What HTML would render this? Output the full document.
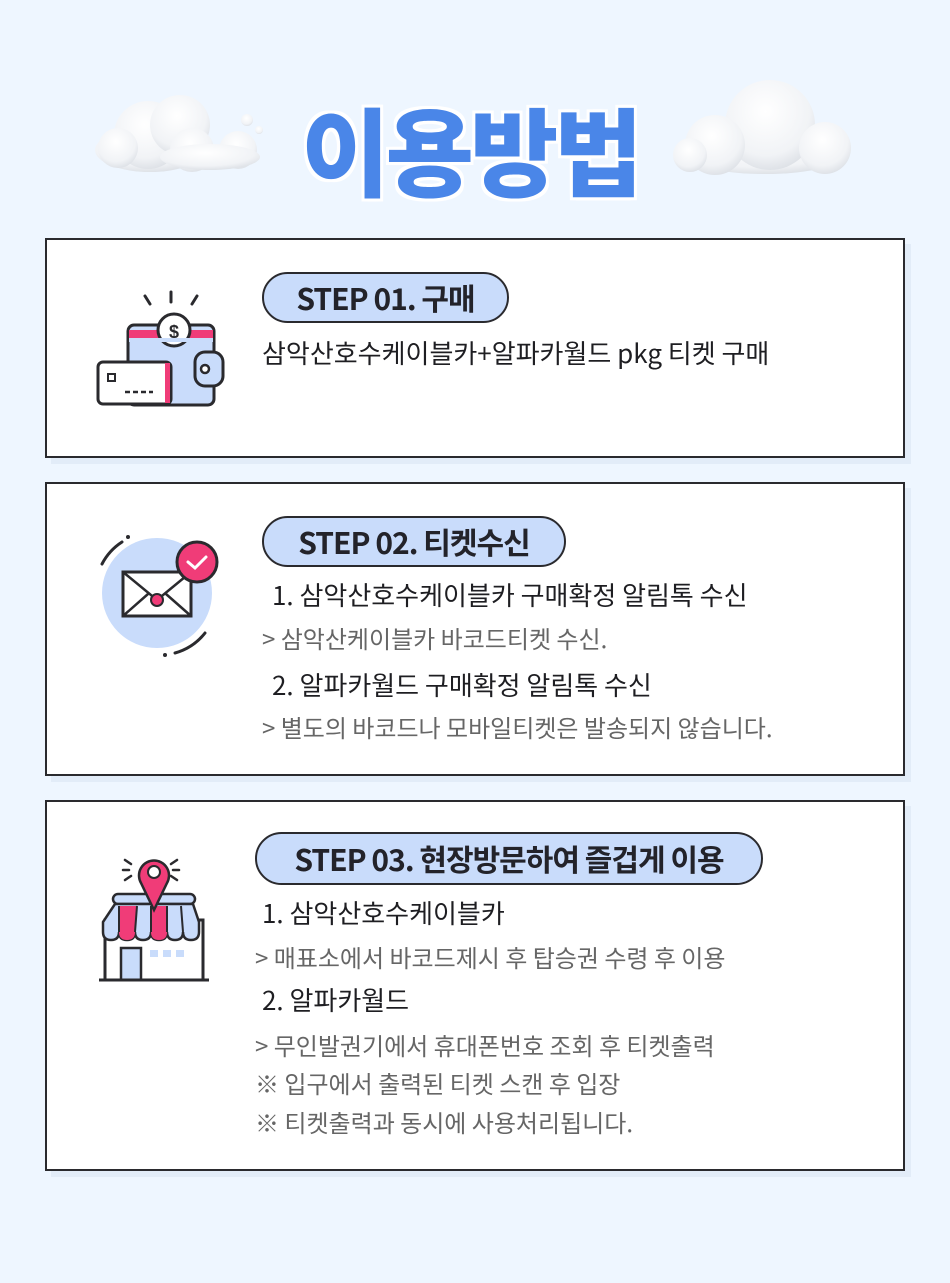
<!DOCTYPE html>
<html><head><meta charset="utf-8"><style>
*{margin:0;padding:0;box-sizing:border-box}
body{width:950px;height:1283px;background:#eef6ff;position:relative;overflow:hidden;font-family:"Liberation Sans","Noto Sans CJK KR",sans-serif;}
.box{position:absolute;left:45px;width:860px;background:#fff;border:2px solid #2a2a2e;box-shadow:6px 6px 0 #e2ecf8;}
.pill{position:absolute;background:#c9dcfb;border:2px solid #2a2a2e;border-radius:30px;font-weight:700;font-size:30px;color:#23232a;text-align:center;letter-spacing:-1px;font-family:"Noto Sans CJK KR",sans-serif}
.t{position:absolute;white-space:nowrap;font-family:"Noto Sans CJK KR",sans-serif;letter-spacing:0;line-height:34px}
.d{color:#1e1e22;font-size:26px}
.g{color:#666;font-size:24px}
.title{position:absolute;left:270px;top:88px;width:400px;text-align:center;font-family:"Noto Sans CJK KR",sans-serif;font-weight:900;font-size:96px;color:#4a86e8;letter-spacing:-4px;line-height:120px;text-shadow:0 0 6px #fff,3px 3px 0 #fff,-3px -3px 0 #fff,3px -3px 0 #fff,-3px 3px 0 #fff}
</style></head><body>
<svg style="position:absolute;left:0;top:0" width="950" height="230">
<defs><radialGradient id="cg" cx="45%" cy="35%" r="70%"><stop offset="0" stop-color="#ffffff"/><stop offset="0.7" stop-color="#f1f3f6"/><stop offset="1" stop-color="#d9dde3"/></radialGradient></defs>
<g fill="url(#cg)">
<ellipse cx="150" cy="150" rx="55" ry="22"/><circle cx="148" cy="135" r="34"/><circle cx="180" cy="125" r="30"/><circle cx="118" cy="148" r="20"/><circle cx="192" cy="150" r="22"/>
<circle cx="238" cy="150" r="19"/><ellipse cx="210" cy="157" rx="50" ry="13"/>
<circle cx="247" cy="120" r="6"/><circle cx="259" cy="130" r="4"/>
<ellipse cx="765" cy="152" rx="85" ry="22"/><circle cx="770" cy="125" r="45"/><circle cx="715" cy="145" r="30"/><circle cx="825" cy="148" r="26"/><circle cx="690" cy="155" r="17"/>
</g></svg>
<div class="title">이용방법</div>

<div class="box" style="top:238px;height:220px"></div>
<div class="pill" style="left:262px;top:272px;width:247px;height:51px;line-height:46px">STEP 01. 구매</div>
<div class="t d" style="left:262px;top:336px">삼악산호수케이블카+알파카월드 pkg 티켓 구매</div>
<svg style="position:absolute;left:95px;top:288px" width="130" height="122">
<g stroke="#2a2a2e" stroke-width="3" fill="none" stroke-linecap="round">
<line x1="50" y1="8" x2="55" y2="16"/><line x1="76" y1="4" x2="76" y2="14"/><line x1="102" y1="8" x2="97" y2="16"/></g>
<rect x="33" y="37" width="86" height="80" rx="6" fill="#c9dcfb" stroke="#2a2a2e" stroke-width="3"/>
<rect x="34" y="42" width="84" height="8" fill="#f03c78"/>
<circle cx="79" cy="42" r="16" fill="#fff" stroke="#2a2a2e" stroke-width="3"/>
<text x="79" y="50" font-size="18" text-anchor="middle" font-family="Liberation Sans" font-weight="bold" fill="#2a2a2e">$</text>
<rect x="34" y="50" width="84" height="4" fill="#c9dcfb"/>
<rect x="100" y="64" width="28" height="34" rx="10" fill="#c9dcfb" stroke="#2a2a2e" stroke-width="3"/>
<circle cx="110" cy="81" r="4" fill="#fff" stroke="#2a2a2e" stroke-width="2.5"/>
<rect x="3" y="74" width="73" height="42" rx="5" fill="#fff" stroke="#2a2a2e" stroke-width="3"/>
<rect x="70" y="75" width="5" height="40" fill="#f03c78"/>
<rect x="13" y="86" width="7" height="7" fill="#fff" stroke="#2a2a2e" stroke-width="2"/>
<line x1="30" y1="104" x2="58" y2="104" stroke="#2a2a2e" stroke-width="2.5" stroke-dasharray="5 3"/>
</svg>

<div class="box" style="top:482px;height:294px"></div>
<div class="pill" style="left:262px;top:516px;width:304px;height:51px;line-height:46px">STEP 02. 티켓수신</div>
<div class="t d" style="left:272px;top:578px">1. 삼악산호수케이블카 구매확정 알림톡 수신</div>
<div class="t g" style="left:262px;top:621px">&gt;  삼악산케이블카 바코드티켓 수신.</div>
<div class="t d" style="left:272px;top:668px">2. 알파카월드 구매확정 알림톡 수신</div>
<div class="t g" style="left:262px;top:710px">&gt; 별도의 바코드나 모바일티켓은 발송되지 않습니다.</div>
<svg style="position:absolute;left:90px;top:520px" width="150" height="150">
<circle cx="67" cy="73" r="55" fill="#c9dcfb"/>
<path d="M12 44 A58 58 0 0 1 32 22" stroke="#2a2a2e" stroke-width="3" fill="none" stroke-linecap="round"/>
<path d="M85 133 A58 58 0 0 0 115 113" stroke="#2a2a2e" stroke-width="3" fill="none" stroke-linecap="round"/>
<circle cx="38" cy="17" r="2" fill="#2a2a2e"/><circle cx="75" cy="135" r="2" fill="#2a2a2e"/>
<rect x="33" y="52" width="68" height="44" fill="#fff" stroke="#2a2a2e" stroke-width="3"/>
<path d="M33 52 L67 80 L101 52 M33 96 L58 74 M101 96 L76 74" stroke="#2a2a2e" stroke-width="2.5" fill="none"/>
<circle cx="67" cy="80" r="6" fill="#f03c78" stroke="#2a2a2e" stroke-width="2"/>
<circle cx="107" cy="42" r="20" fill="#f03c78" stroke="#2a2a2e" stroke-width="3"/>
<path d="M98 42 L105 48 L116 37" stroke="#fff" stroke-width="3" fill="none" stroke-linecap="round"/>
</svg>

<div class="box" style="top:800px;height:371px"></div>
<div class="pill" style="left:255px;top:832px;width:508px;height:53px;line-height:48px">STEP 03. 현장방문하여 즐겁게 이용</div>
<div class="t d" style="left:262px;top:896px">1. 삼악산호수케이블카</div>
<div class="t g" style="left:255px;top:940px">&gt; 매표소에서 바코드제시 후 탑승권 수령 후 이용</div>
<div class="t d" style="left:262px;top:983px">2. 알파카월드</div>
<div class="t g" style="left:255px;top:1028px">&gt; 무인발권기에서 휴대폰번호 조회 후 티켓출력</div>
<div class="t g" style="left:255px;top:1066px">※ 입구에서 출력된 티켓 스캔 후 입장</div>
<div class="t g" style="left:255px;top:1105px">※ 티켓출력과 동시에 사용처리됩니다.</div>
<svg style="position:absolute;left:95px;top:850px" width="120" height="135">
<g stroke="#2a2a2e" stroke-width="2.5" stroke-linecap="round"><line x1="30" y1="10" x2="36" y2="14"/><line x1="28" y1="20" x2="34" y2="20"/><line x1="30" y1="30" x2="36" y2="26"/><line x1="82" y1="10" x2="76" y2="14"/><line x1="84" y1="20" x2="78" y2="20"/><line x1="82" y1="30" x2="76" y2="26"/></g>
<rect x="10" y="70" width="98" height="60" fill="#fff" stroke="#2a2a2e" stroke-width="3"/>
<rect x="26" y="98" width="20" height="32" fill="#c9dcfb" stroke="#2a2a2e" stroke-width="2.5"/>
<rect x="55" y="100" width="8" height="7" fill="#c9dcfb"/><rect x="68" y="100" width="8" height="7" fill="#c9dcfb"/><rect x="81" y="100" width="8" height="7" fill="#c9dcfb"/>
<line x1="4" y1="130" x2="114" y2="130" stroke="#2a2a2e" stroke-width="3"/>
<rect x="18" y="44" width="82" height="10" rx="5" fill="#c9dcfb" stroke="#2a2a2e" stroke-width="2.5"/>
<path d="M20 54 L8 72 L8 82 Q8 90 16 90 Q24 90 24 82 Q24 90 32 90 Q40 90 40 82 Q40 90 48 90 Q56 90 56 82 Q56 90 64 90 Q72 90 72 82 Q72 90 80 90 Q88 90 88 82 Q88 90 96 90 Q104 90 104 82 L104 72 L98 54 Z" fill="#c9dcfb" stroke="#2a2a2e" stroke-width="2.5"/>
<path d="M24 56 L24 82 Q24 90 32 90 Q40 90 40 82 L42 56 Z" fill="#f03c78"/>
<path d="M56 56 L56 82 Q56 90 64 90 Q72 90 72 82 L72 56 Z" fill="#f03c78"/>
<path d="M24 82 L24 56 M40 82 L42 56 M56 82 L56 56 M72 82 L72 56 M88 82 L86 56" stroke="#2a2a2e" stroke-width="2"/>
<path d="M59 60 L46 33 A15 15 0 1 1 72 33 Z" fill="#f03c78" stroke="#2a2a2e" stroke-width="2.5"/>
<circle cx="59" cy="22" r="6" fill="#fff" stroke="#2a2a2e" stroke-width="2"/>
</svg>
</body></html>
